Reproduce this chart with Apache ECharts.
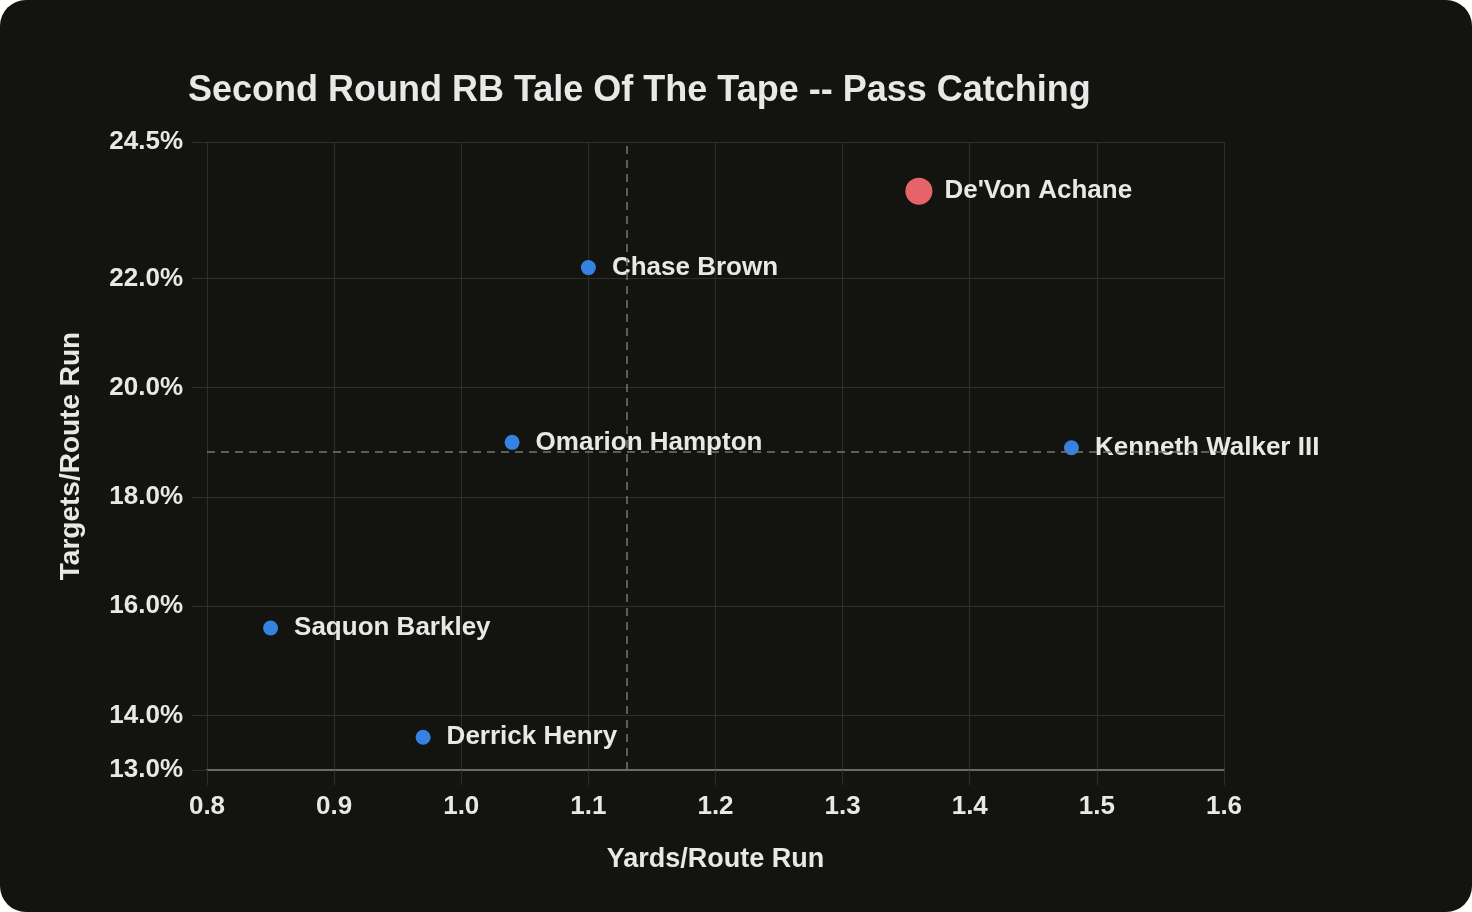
<!DOCTYPE html>
<html>
<head>
<meta charset="utf-8">
<script src="https://cdn.jsdelivr.net/npm/echarts@6/dist/echarts.min.js"></script>
<style>
  html, body { margin: 0; padding: 0; background: #ffffff; }
  #main { width: 1472px; height: 912px; background: #131310; border-radius: 26px; overflow: hidden; }
</style>
</head>
<body>
<div id="main"></div>
<script>
// players, yards per route run, targets per route run (%)
const players = ["De'Von Achane", 'Chase Brown', 'Omarion Hampton', 'Kenneth Walker III', 'Saquon Barkley', 'Derrick Henry'];
const yprr = [1.36, 1.10, 1.04, 1.48, 0.85, 0.97];
const tprr = [23.6, 22.2, 19.0, 18.9, 15.6, 13.6];
const highlight = "De'Von Achane";
const yTicks = [13, 14, 16, 18, 20, 22, 24.5];

const mean = arr => arr.reduce((a, b) => a + b, 0) / arr.length;
const avgX = mean(yprr);
const avgY = mean(tprr);

const txt = '#e8e8e8';
const font = '"Liberation Sans", Arial, sans-serif';
const gridColor = '#2e2e2b';

const points = players.map((name, i) => {
    const big = name === highlight;
    return {
        name: name,
        value: [yprr[i], tprr[i]],
        symbolSize: big ? 27 : 15,
        itemStyle: { color: big ? '#e66468' : '#3582e2', opacity: 1 },
        label: { distance: big ? 12 : 16 }
    };
});

const myChart = echarts.init(document.getElementById('main'));
myChart.setOption({
    backgroundColor: 'transparent',
    animation: false,
    title: {
        text: 'Second Round RB Tale Of The Tape -- Pass Catching',
        left: 183,
        top: 68,
        textStyle: { color: txt, fontSize: 36, fontWeight: 'bold', fontFamily: font }
    },
    grid: { left: 207, right: 248, top: 142, bottom: 142 },
    xAxis: {
        type: 'value',
        min: 0.8,
        max: 1.6,
        interval: 0.1,
        name: 'Yards/Route Run',
        nameLocation: 'middle',
        nameGap: 76,
        nameTextStyle: { color: txt, fontSize: 27, fontWeight: 'bold', fontFamily: font },
        axisLine: { show: true, lineStyle: { color: '#6a6a67', width: 2 } },
        axisTick: { show: true, length: 15, lineStyle: { color: gridColor } },
        splitLine: { show: true, lineStyle: { color: gridColor } },
        axisLabel: {
            color: txt, fontSize: 26, fontWeight: 'bold', fontFamily: font, margin: 24,
            formatter: v => v.toFixed(1)
        }
    },
    yAxis: {
        type: 'value',
        min: 13,
        max: 24.5,
        name: 'Targets/Route Run',
        nameLocation: 'middle',
        nameGap: 122,
        nameTextStyle: { color: txt, fontSize: 28, fontWeight: 'bold', fontFamily: font },
        axisLine: { show: false },
        axisTick: { show: true, length: 15, lineStyle: { color: gridColor }, customValues: yTicks },
        splitLine: { show: true, lineStyle: { color: gridColor } },
        axisLabel: {
            color: txt, fontSize: 26, fontWeight: 'bold', fontFamily: font, margin: 24,
            customValues: yTicks,
            formatter: v => v.toFixed(1) + '%'
        }
    },
    series: [{
        type: 'scatter',
        data: points,
        itemStyle: { opacity: 1 },
        label: {
            show: true,
            position: 'right',
            formatter: p => p.name,
            color: txt,
            opacity: 1,
            fontSize: 26,
            fontWeight: 'bold',
            fontFamily: font
        },
        markLine: {
            silent: true,
            symbol: 'none',
            label: { show: false },
            lineStyle: { color: '#77776f', type: [8, 6], width: 1.5 },
            data: [{ xAxis: avgX }, { yAxis: avgY }]
        }
    }]
});
</script>
</body>
</html>
